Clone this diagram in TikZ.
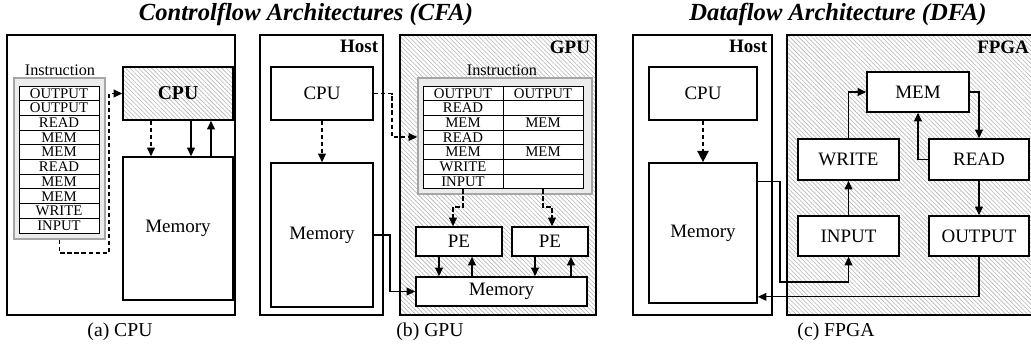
\documentclass[tikz,border=0pt]{standalone}
\usepackage{fontspec}
\setmainfont{Liberation Serif}
\usetikzlibrary{arrows.meta,patterns.meta}

\begin{document}
\begin{tikzpicture}[
		panel/.style = {rectangle, draw, line width=2pt, inner sep=0},
		hatch/.style = {pattern={Lines[angle=-45, distance=2.2pt, line width=0.4pt]}, pattern color=gray!60},
		blk/.style = {rectangle, draw, line width=1.2pt, fill=white, inner sep=0, font=\fontsize{13.5}{16}\selectfont},
		hblk/.style = {rectangle, draw, line width=1.2pt, inner sep=0, hatch},
		ibox/.style = {rectangle, draw=gray!70, fill=gray!15, line width=1.2pt},
		cell/.style = {rectangle, draw, line width=0.6pt, fill=white, minimum width=2cm, minimum height=0.3675cm, inner sep=0, font=\fontsize{10.5}{10.5}\selectfont},
		tag/.style = {anchor=north east, inner sep=0, font=\fontsize{13.5}{16}\selectfont\bfseries},
		capt/.style = {font=\fontsize{14}{16}\selectfont},
		ttl/.style = {font=\fontsize{17.5}{20}\selectfont\bfseries\itshape},
		ins/.style = {font=\fontsize{11.5}{13}\selectfont},
		r/.style = {-{Triangle[length=6pt, width=5.5pt]}, line width=1.1pt},
		d/.style = {r, dash pattern=on 3pt off 2pt},
		t/.style = {-{Triangle[length=6pt, width=5.5pt]}, line width=0.8pt},
		]
		\useasboundingbox (0,0) rectangle (25.775,-8.625);
		
		%Frames
		\node[panel, minimum width=5.7cm, minimum height=7cm]	(boxA)	at	(3.025,-4.375)	{};
		\node[panel, minimum width=3.075cm, minimum height=7cm]	(hostB)	at	(8.0375,-4.375)	{};
		\node[panel, hatch, minimum width=4.9cm, minimum height=7cm]	(gpu)	at	(12.45,-4.375)	{};
		\node[panel, minimum width=3.475cm, minimum height=7cm]	(hostC)	at	(17.5625,-4.375)	{};
		\node[panel, hatch, minimum width=6.325cm, minimum height=7cm]	(fpga)	at	(22.8375,-4.375)	{};
		\node[tag]	(hostBt)	at	([shift={(-0.15,-0.15)}]hostB.north east)	{Host};
		\node[tag]	(gput)	at	([shift={(-0.15,-0.15)}]gpu.north east)	{GPU};
		\node[tag]	(hostCt)	at	([shift={(-0.15,-0.15)}]hostC.north east)	{Host};
		\node[tag]	(fpgat)	at	(25.73,-1.025)	{FPGA};
		
		%Titles
		\node[ttl]	(cfa)	at	(7.65,-0.35)	{Controlflow Architectures (CFA)};
		\node[ttl]	(dfa)	at	(20.95,-0.35)	{Dataflow Architecture (DFA)};
		\node[capt]	(capA)	at	(3.0,-8.3)	{(a) CPU};
		\node[capt]	(capB)	at	(10.75,-8.3)	{(b) GPU};
		\node[capt]	(capC)	at	(20.9,-8.3)	{(c) FPGA};
		
		%Nodes CPU
		\node[ins]	(insA)	at	(1.5,-1.75)	{Instruction};
		\node[ibox, minimum width=2.275cm, minimum height=4.025cm]	(instrA)	at	(1.4875,-3.9625)	{};
		\foreach \t [count=\i] in {OUTPUT,OUTPUT,READ,MEM,MEM,READ,MEM,MEM,WRITE,INPUT}
			\node[cell]	(ia\i)	at	(1.475,-1.966-0.3675*\i)	{\t};
		\node[hblk, font=\fontsize{14}{16}\selectfont\bfseries, minimum width=2.75cm, minimum height=1.325cm]	(cpuA)	at	(4.45,-2.3375)	{CPU};
		\node[blk, minimum width=2.75cm, minimum height=3.575cm]	(memA)	at	(4.45,-5.7125)	{Memory};
		\coordinate	(ca)	at	(2.725,-6.325);
		
		%Nodes GPU
		\node[blk, minimum width=2.55cm, minimum height=1.325cm]	(cpuB)	at	(8.05,-2.3375)	{CPU};
		\node[blk, minimum width=2.55cm, minimum height=3.6cm]	(memB)	at	(8.05,-5.875)	{Memory};
		\node[ins]	(insB)	at	(12.55,-1.75)	{Instruction};
		\node[ibox, minimum width=4.35cm, minimum height=2.9cm]	(instrB)	at	(12.625,-3.4)	{};
		\foreach \t [count=\i] in {OUTPUT,READ,MEM,READ,MEM,WRITE,INPUT}
			\node[cell]	(ib\i)	at	(11.575,-1.966-0.3675*\i)	{\t};
		\foreach \t [count=\i] in {OUTPUT,{},MEM,{},MEM,{},{}}
			\node[cell]	(ic\i)	at	(13.575,-1.966-0.3675*\i)	{\t};
		\node[blk, minimum width=2.15cm, minimum height=0.725cm]	(pe1)	at	(11.475,-6.0375)	{PE};
		\node[blk, minimum width=1.9cm, minimum height=0.725cm]	(pe2)	at	(13.75,-6.0375)	{PE};
		\node[blk, minimum width=4.275cm, minimum height=0.725cm]	(gmem)	at	(12.5375,-7.2875)	{Memory};
		\coordinate	(cb)	at	(9.8,-3.425);
		\coordinate	(cm)	at	(9.75,-7.2875);
		\coordinate	(pa)	at	(11.325,-5.175);
		\coordinate	(pb)	at	(13.8,-5.175);
		
		%Nodes FPGA
		\node[blk, minimum width=2.7cm, minimum height=1.325cm]	(cpuC)	at	(17.575,-2.3375)	{CPU};
		\node[blk, minimum width=2.7cm, minimum height=3.5cm]	(memC)	at	(17.575,-5.825)	{Memory};
		\node[blk, minimum width=2.55cm, minimum height=1cm]	(mem)	at	(22.95,-2.3)	{MEM};
		\node[blk, minimum width=2.525cm, minimum height=1.025cm]	(wr)	at	(21.2125,-3.9875)	{WRITE};
		\node[blk, minimum width=2.5cm, minimum height=1.025cm]	(rd)	at	(24.475,-3.9875)	{READ};
		\node[blk, minimum width=2.525cm, minimum height=1cm]	(inp)	at	(21.2125,-5.9)	{INPUT};
		\node[blk, minimum width=2.5cm, minimum height=1cm]	(outp)	at	(24.475,-5.9)	{OUTPUT};
		\coordinate	(cc)	at	(19.5,-7.05);
		
		%Lines CPU
		\draw[d]	([xshift=-0.675cm]cpuA.south)	--	([xshift=-0.675cm]memA.north);
		\draw[r]	([xshift=0.325cm]cpuA.south)	--	([xshift=0.325cm]memA.north);
		\draw[r]	([xshift=0.825cm]memA.north)	--	([xshift=0.825cm]cpuA.south);
		\draw[d]	(instrA.south)	|-	(ca)	|-	(cpuA.west);
		
		%Lines GPU
		\draw[d]	(cpuB)	--	(memB);
		\draw[d]	(cpuB.east)	-|	(cb)	--	(cb -| instrB.west);
		\draw[d]	(ib7.south)	|-	(pa)	--	(pa |- pe1.north);
		\draw[d]	(ic7.south)	|-	(pb)	--	(pb |- pe2.north);
		\draw[r]	([xshift=-0.5cm]pe1.south)	--	([xshift=-0.5cm]pe1.south |- gmem.north);
		\draw[r]	([xshift=0.325cm]pe1.south |- gmem.north)	--	([xshift=0.325cm]pe1.south);
		\draw[r]	([xshift=-0.375cm]pe2.south)	--	([xshift=-0.375cm]pe2.south |- gmem.north);
		\draw[r]	([xshift=0.525cm]pe2.south |- gmem.north)	--	([xshift=0.525cm]pe2.south);
		\draw[r]	(memB.east)	-|	(cm)	--	(gmem.west);
		
		%Lines FPGA
		\draw[d, -{Triangle[length=8pt, width=8pt]}]	(cpuC)	--	(memC);
		\draw[t]	(wr.north)	|-	(mem.west);
		\draw[t]	(mem.east)	-|	(rd.north);
		\draw[t]	(rd.west)	-|	(mem.south);
		\draw[t]	(rd)	--	(outp);
		\draw[t]	(inp)	--	(wr);
		\draw[t]	([yshift=-0.475cm]memC.north east)	-|	(cc)	-|	(inp.south);
		\draw[t]	(outp.south)	|-	([yshift=0.175cm]memC.south east);
		
	\end{tikzpicture}
\end{document}
